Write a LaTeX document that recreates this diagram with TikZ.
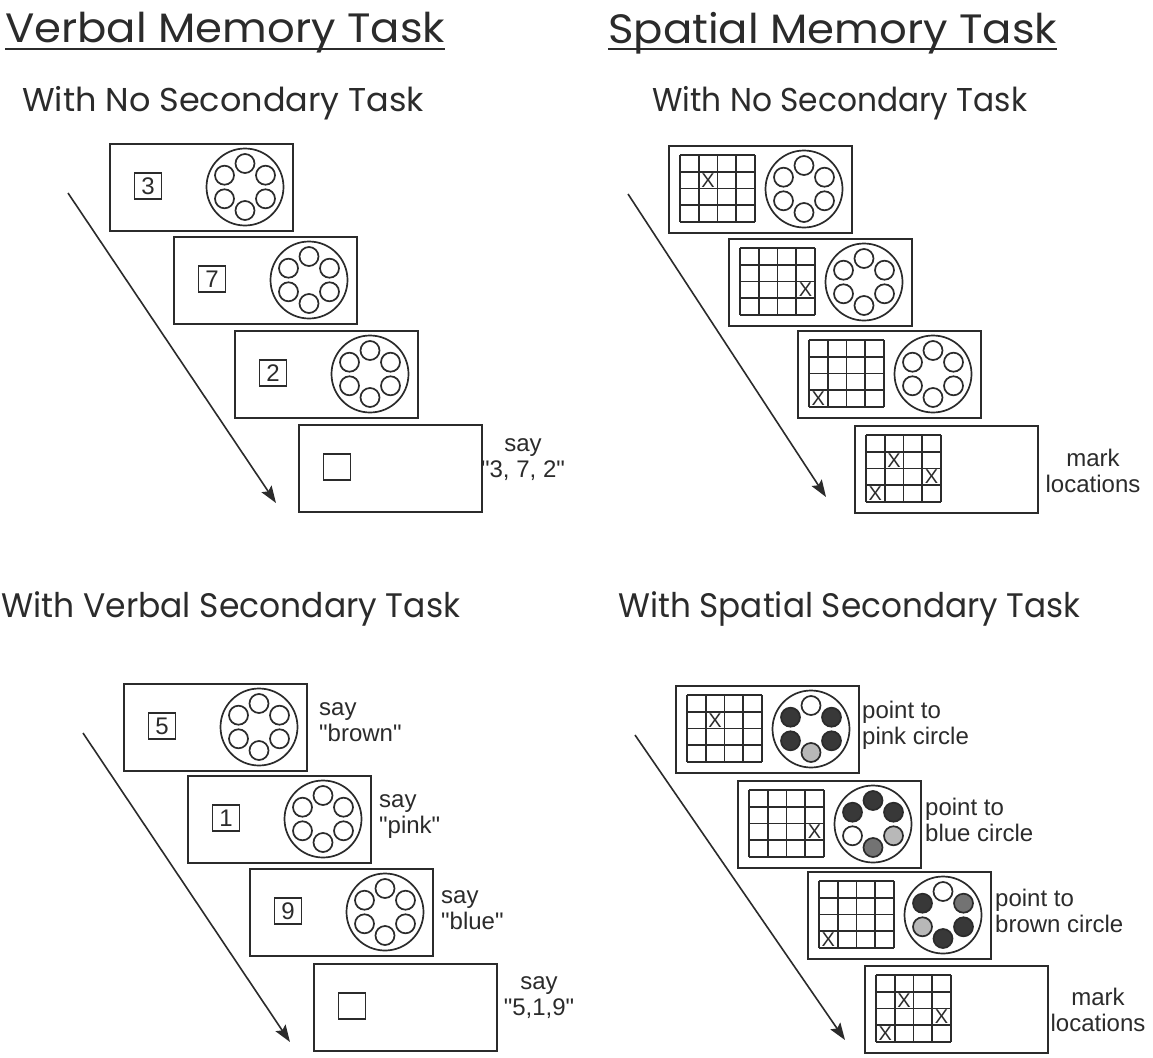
\documentclass[tikz,border=0pt]{standalone}
\usepackage{fontspec}
\setmainfont{Liberation Sans}[Ligatures=TeXOff]
\newfontfamily\headfont{Poppins}
\usetikzlibrary{arrows.meta}
\definecolor{ink}{gray}{0.17}
\definecolor{darkfill}{gray}{0.22}
\definecolor{midfill}{gray}{0.45}
\definecolor{lightfill}{gray}{0.72}
\tikzset{
  framebox/.style={draw=ink, line width=1.9pt, minimum width=183pt, minimum height=87pt, inner sep=0pt, anchor=north west},
  numbox/.style={draw=ink, line width=1.5pt, minimum width=27pt, minimum height=26pt, inner sep=0pt, font=\fontsize{24}{24}\selectfont, text=ink},
  sidetext/.style={inner sep=0pt, font=\fontsize{24}{26}\selectfont, text=ink},
  flow/.style={draw=ink, line width=1.6pt, -{Stealth[length=17pt,width=12pt,inset=3pt]}},
  xmark/.style={inner sep=0pt, font=\fontsize{20}{20}\selectfont, text=ink},
  gridline/.style={draw=ink, line width=1.6pt},
  ringline/.style={draw=ink, line width=1.7pt},
  heading/.style={inner sep=0pt, anchor=base west, text=ink, font=\headfont},
  uline/.style={draw=ink, line width=2.6pt}
}
% ring of six small circles: fills top, UR, LR, bottom, LL, UL
\newcommand{\ringsix}[6]{%
  \begin{scope}[shift={(136,44)}]
    \draw[ringline] (0,0) circle[radius=38.5];
    \draw[ringline, fill=#1] (0,-23.5) circle[radius=9.5];
    \draw[ringline, fill=#2] (20.5,-11.8) circle[radius=9.5];
    \draw[ringline, fill=#3] (20.5,11.8) circle[radius=9.5];
    \draw[ringline, fill=#4] (0,23.5) circle[radius=9.5];
    \draw[ringline, fill=#5] (-20.5,11.8) circle[radius=9.5];
    \draw[ringline, fill=#6] (-20.5,-11.8) circle[radius=9.5];
  \end{scope}}
% 4x4 grid with X marks (list of col/row)
\newcommand{\sgrid}[2]{%
  \begin{scope}[shift={(12,10)}]
    \foreach \i in {0,...,4} {
      \draw[gridline] (\i*18.75,0) -- (\i*18.75,67);
      \draw[gridline] (0,\i*16.75) -- (75,\i*16.75);
    }
    \foreach \c/\r in {#2}
      \node[xmark] (#1-x\c\r) at ({(\c-0.5)*18.75},{(\r-0.5)*16.75}) {X};
  \end{scope}}
% verbal frame: name, x, y, digit, ring
\newcommand{\vframe}[5]{%
  \node[framebox] (#1) at (#2,#3) {};
  \begin{scope}[shift={(#2,#3)}]
    \node[numbox] (#1-d) at (39,43) {#4};
    #5
  \end{scope}}
% spatial frame: name, x, y, X list, ring
\newcommand{\sframe}[5]{%
  \node[framebox] (#1) at (#2,#3) {};
  \begin{scope}[shift={(#2,#3)}]
    \sgrid{#1}{#4}
    #5
  \end{scope}}
\newcommand{\wring}{\ringsix{white}{white}{white}{white}{white}{white}}

\begin{document}
\begin{tikzpicture}[x=1pt,y=-1pt]
\useasboundingbox (0,0) rectangle (1153,1057);
\fill[white] (0,0) rectangle (1153,1057);

% headings
\node[heading] (hv) at (5,43) {\resizebox{440pt}{\height}{\fontsize{41}{41}\selectfont Verbal Memory Task}};
\draw[uline] ([yshift=-6pt]hv.base west) -- ([yshift=-6pt]hv.base east);
\node[heading] (hs) at (608,43) {\resizebox{449pt}{\height}{\fontsize{41}{41}\selectfont Spatial Memory Task}};
\draw[uline] ([yshift=-6pt]hs.base west) -- ([yshift=-6pt]hs.base east);

\node[heading] (s1) at (22,111) {\resizebox{402pt}{\height}{\fontsize{33}{33}\selectfont With No Secondary Task}};
\node[heading] (s2) at (652,111) {\resizebox{375pt}{\height}{\fontsize{33}{33}\selectfont With No Secondary Task}};
\node[heading] (s3) at (1,617) {\resizebox{459pt}{\height}{\fontsize{34}{34}\selectfont With Verbal Secondary Task}};
\node[heading] (s4) at (618,617) {\resizebox{462pt}{\height}{\fontsize{34}{34}\selectfont With Spatial Secondary Task}};

% ---- top left: verbal, no secondary
\vframe{tl1}{109}{143}{3}{\wring}
\vframe{tl2}{173}{236}{7}{\wring}
\vframe{tl3}{234}{330}{2}{\wring}
\vframe{tl4}{298}{424}{}{}
\node[sidetext, align=center] (tl4t) at (523,460) {say\\"3, 7, 2"};
\coordinate (tla) at (68,193); \coordinate (tlb) at (276,503);
\draw[flow] (tla) -- (tlb);

% ---- top right: spatial, no secondary
\sframe{tr1}{668}{145}{2/2}{\wring}
\sframe{tr2}{728}{238}{4/3}{\wring}
\sframe{tr3}{797}{330}{1/4}{\wring}
\sframe{tr4}{854}{425}{2/2,4/3,1/4}{}
\node[sidetext, align=center] (tr4t) at (1093,471) {mark\\locations};
\coordinate (tra) at (628,194); \coordinate (trb) at (826,497);
\draw[flow] (tra) -- (trb);

% ---- bottom left: verbal secondary
\vframe{bl1}{123}{683}{5}{\wring}
\vframe{bl2}{187}{775}{1}{\wring}
\vframe{bl3}{249}{868}{9}{\wring}
\vframe{bl4}{313}{963}{}{}
\node[sidetext, align=left, anchor=west] (bl1t) at (319,722) {say\\"brown"};
\node[sidetext, align=left, anchor=west] (bl2t) at (379,817) {say\\"pink"};
\node[sidetext, align=left, anchor=west] (bl3t) at (441,910) {say\\"blue"};
\node[sidetext, align=center] (bl4t) at (539,998) {say\\"5,1,9"};
\coordinate (bla) at (83,733); \coordinate (blb) at (290,1042);
\draw[flow] (bla) -- (blb);

% ---- bottom right: spatial secondary
\sframe{br1}{675}{685}{2/2}{\ringsix{white}{darkfill}{darkfill}{lightfill}{darkfill}{darkfill}}
\sframe{br2}{737}{780}{4/3}{\ringsix{darkfill}{darkfill}{lightfill}{midfill}{white}{darkfill}}
\sframe{br3}{807}{871}{1/4}{\ringsix{white}{midfill}{darkfill}{darkfill}{lightfill}{darkfill}}
\sframe{br4}{864}{965}{2/2,4/3,1/4}{}
\node[sidetext, align=left, anchor=west] (br1t) at (862,725) {point to\\pink circle};
\node[sidetext, align=left, anchor=west] (br2t) at (925,820) {point to\\blue circle};
\node[sidetext, align=left, anchor=west] (br3t) at (995,911) {point to\\brown circle};
\node[sidetext, align=center] (br4t) at (1098,1010) {mark\\locations};
\coordinate (bra) at (635,735); \coordinate (brb) at (845,1040);
\draw[flow] (bra) -- (brb);
\end{tikzpicture}
\end{document}
